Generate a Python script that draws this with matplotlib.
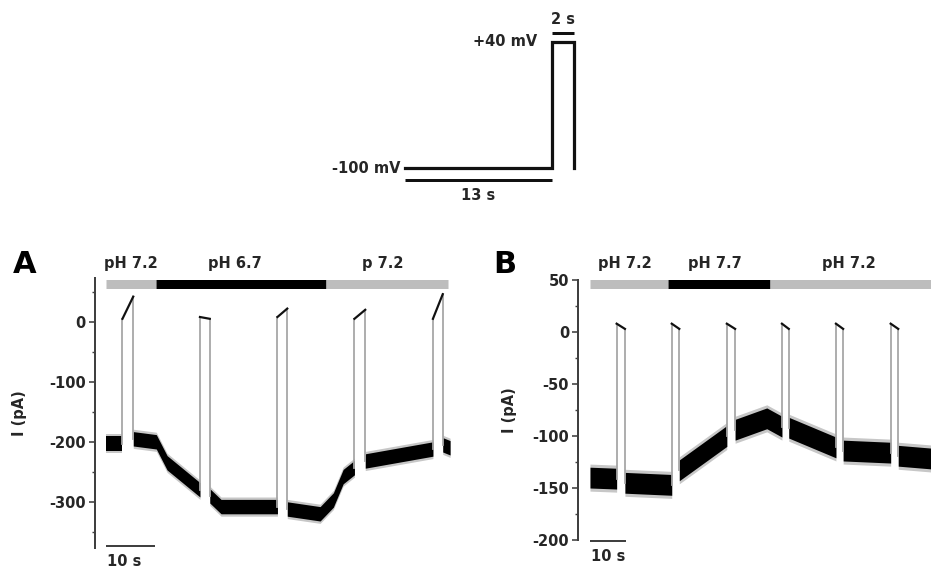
import matplotlib
matplotlib.use("Agg")
import matplotlib.pyplot as plt
from matplotlib.ticker import MultipleLocator

plt.rcParams['font.family'] = ['DejaVu Sans']
plt.rcParams['axes.unicode_minus'] = False

W, H = 931, 571
TXT = '#262626'
AX = '#404040'

# ---------------- data ----------------
# voltage protocol
prot_t = [0, 13, 13, 15, 15]
prot_v = [-100, -100, 40, 40, -100]

# Panel A (pH 7.2 -> 6.7 -> 7.2)
A_pulse_on = [3.4, 19.2, 35.0, 50.7, 66.7]
A_pulse_off = [5.6, 21.2, 37.0, 52.9, 68.7]
A_top_start = [5, 8, 8, 5, 5]
A_top_end = [42, 5, 22, 20, 46]
A_segments = [
    [(0.0, -203), (3.4, -203)],
    [(5.6, -195), (10.3, -200), (12.5, -235), (19.2, -280)],
    [(21.2, -290), (23.5, -308), (35.0, -308)],
    [(37.0, -312), (43.7, -320), (46.4, -297), (48.4, -258), (50.7, -243)],
    [(52.9, -232), (66.7, -212)],
    [(68.7, -205), (70.2, -210)],
]
A_bar = [(0, 10.3, 'g'), (10.3, 44.9, 'k'), (44.9, 69.8, 'g')]
A_bar_labels = [(5.1, 'pH 7.2'), (26.3, 'pH 6.7'), (56.5, 'p 7.2')]
A_yticks = [0, -100, -200, -300]
A_yticklabels = ['0', '-100', '-200', '-300']

# Panel B (pH 7.2 -> 7.7 -> 7.2)
B_pulse_on = [7.4, 22.7, 38.0, 53.3, 68.3, 83.5]
B_pulse_off = [9.7, 24.8, 40.3, 55.2, 70.3, 85.6]
B_top_start = [8, 8, 8, 8, 8, 8]
B_top_end = [3, 3, 3, 3, 3, 3]
B_segments = [
    [(0.0, -140), (7.4, -141)],
    [(9.7, -145), (22.7, -147)],
    [(24.8, -133), (38.0, -100)],
    [(40.3, -94), (49.1, -83), (53.3, -91)],
    [(55.2, -92), (68.3, -111)],
    [(70.3, -114), (83.5, -116)],
    [(85.6, -119), (96.0, -122)],
]
B_bar = [(0, 21.75, 'g'), (21.75, 50, 'k'), (50, 100, 'g')]
B_bar_labels = [(9.7, 'pH 7.2'), (34.7, 'pH 7.7'), (71.9, 'pH 7.2')]
B_yticks = [50, 0, -50, -100, -150, -200]
B_yticklabels = ['50', '0', '-50', '-100', '-150', '-200']

# ---------------- helpers ----------------
fig = plt.figure(figsize=(W / 100, H / 100), dpi=100)
fig.patch.set_facecolor('white')


def px_axes(x0, y0, x1, y1):
    return fig.add_axes([x0 / W, 1 - y1 / H, (x1 - x0) / W, (y1 - y0) / H])


def pt(px):
    return px * 0.72


# ---------------- protocol ----------------
axp = px_axes(300, 0, 650, 210)
axp.set_xlim(-9.31, 21.72)
axp.set_ylim(-146.1, 86.2)
axp.axis('off')
axp.plot(prot_t, prot_v, color='#111111', lw=pt(3.2), solid_joinstyle='miter')
axp.plot([0, 13], [-113, -113], color='#111111', lw=pt(3), solid_capstyle='butt')
axp.plot([13, 15], [50, 50], color='#111111', lw=pt(3), solid_capstyle='butt')
fs = 10.5
axp.text(-0.4, -100, '-100 mV', ha='right', va='center', fontsize=fs, fontweight='bold', color=TXT)
axp.text(11.7, 40, '+40 mV', ha='right', va='center', fontsize=fs, fontweight='bold', color=TXT)
axp.text(14.0, 65, '2 s', ha='center', va='center', fontsize=fs, fontweight='bold', color=TXT)
axp.text(6.5, -130, '13 s', ha='center', va='center', fontsize=fs, fontweight='bold', color=TXT)


def draw_panel(ax, segs, on, off, top0, top1, hw_core, hw_out, bar, bar_y, labels, lab_y):
    # baseline current drawn as a noise band
    for seg in segs:
        t = [p[0] for p in seg]
        v = [p[1] for p in seg]
        ax.fill_between(t, [x - hw_out for x in v], [x + hw_out for x in v],
                        color='black', alpha=0.22, lw=0)
        ax.fill_between(t, [x - hw_core for x in v], [x + hw_core for x in v],
                        color='black', lw=0)
    # pulses
    for i in range(len(on)):
        before = segs[i][-1][1]
        after = segs[i + 1][0][1]
        ax.plot([on[i], on[i]], [before, top0[i]], color='#a6a6a6', lw=pt(1.8))
        ax.plot([off[i], off[i]], [top1[i], after], color='#a6a6a6', lw=pt(1.8))
        ax.plot([on[i], off[i]], [top0[i], top1[i]], color='#111111', lw=pt(2.2))
    # solution bar
    for s, e, c in bar:
        ax.plot([s, e], [bar_y, bar_y], color='#bdbdbd' if c == 'g' else 'black',
                lw=pt(9), solid_capstyle='butt', clip_on=False)
    for x, s in labels:
        ax.text(x, lab_y, s, ha='center', va='center', fontsize=fs,
                fontweight='bold', color=TXT, clip_on=False)


def style_axis(ax, ticks, labels, minor):
    for s in ['top', 'right', 'bottom']:
        ax.spines[s].set_visible(False)
    ax.spines['left'].set_color(AX)
    ax.spines['left'].set_linewidth(pt(2))
    ax.set_xticks([])
    ax.set_yticks(ticks)
    ax.set_yticklabels(labels)
    ax.yaxis.set_minor_locator(MultipleLocator(minor))
    ax.tick_params(axis='y', which='major', length=pt(6), width=pt(1.6), color=AX,
                   labelsize=fs, pad=pt(3), labelcolor=TXT)
    ax.tick_params(axis='y', which='minor', length=pt(3.5), width=pt(1.4), color=AX)
    for lab in ax.get_yticklabels():
        lab.set_fontweight('bold')
    ax.patch.set_alpha(0)


# ---------------- panel A ----------------
axA = px_axes(95, 278, 455, 548)
axA.set_xlim(-2.2, 71.2)
axA.set_ylim(-377, 73)
draw_panel(axA, A_segments, A_pulse_on, A_pulse_off, A_top_start, A_top_end, 12, 16,
           A_bar, 63, A_bar_labels, 98)
style_axis(axA, A_yticks, A_yticklabels, 50)
axA.plot([0, 10], [-373, -373], color=AX, lw=pt(2), clip_on=False, solid_capstyle='butt')
axA.text(0.2, -399, '10 s', ha='left', va='center', fontsize=fs, fontweight='bold',
         color=TXT, clip_on=False)
axA.set_ylabel('I (pA)', fontsize=fs, fontweight='bold', color=TXT)
axA.yaxis.set_label_coords(27 / W, 1 - 413 / H, transform=fig.transFigure)

# ---------------- panel B ----------------
axB = px_axes(578, 280, 931, 540)
axB.set_xlim(-3.33, 94.7)
axB.set_ylim(-200, 50)
draw_panel(axB, B_segments, B_pulse_on, B_pulse_off, B_top_start, B_top_end, 10, 13,
           B_bar, 45.7, B_bar_labels, 66)
style_axis(axB, B_yticks, B_yticklabels, 25)
axB.plot([0, 10], [-200.5, -200.5], color=AX, lw=pt(2), clip_on=False, solid_capstyle='butt')
axB.text(0.2, -215.6, '10 s', ha='left', va='center', fontsize=fs, fontweight='bold',
         color=TXT, clip_on=False)
axB.set_ylabel('I (pA)', fontsize=fs, fontweight='bold', color=TXT)
axB.yaxis.set_label_coords(517 / W, 1 - 410 / H, transform=fig.transFigure)

# panel letters
fig.text(25 / W, 1 - 265 / H, 'A', fontsize=22, fontweight='bold', color='black',
         ha='center', va='center')
fig.text(505 / W, 1 - 265 / H, 'B', fontsize=22, fontweight='bold', color='black',
         ha='center', va='center')

fig.savefig('out.png', dpi=100, facecolor='white')
